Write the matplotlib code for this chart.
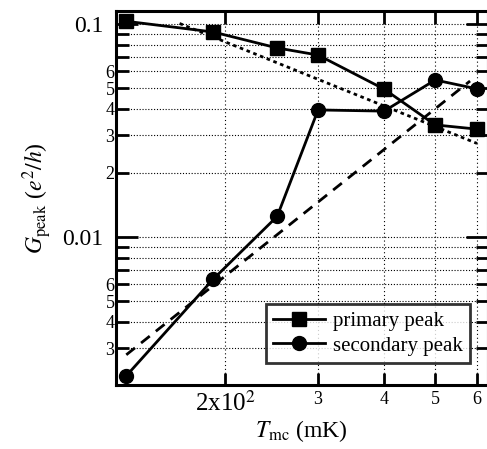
import matplotlib
matplotlib.use("Agg")
import matplotlib.pyplot as plt
from matplotlib.ticker import FixedLocator, FuncFormatter, NullFormatter, LogLocator
import numpy as np

# ---- data ----
T_primary = [130, 190, 251, 300, 400, 500, 600]
G_primary = [0.103, 0.0917, 0.0772, 0.0715, 0.0495, 0.0336, 0.0321]
T_secondary = [130, 190, 251, 300, 400, 500, 600]
G_secondary = [0.00223, 0.00635, 0.0125, 0.0395, 0.039, 0.0546, 0.0496]
# fitted power-law guide lines (end points)
T_fit_primary = [164, 600]
G_fit_primary = [0.1006, 0.0275]
T_fit_secondary = [130, 582]
G_fit_secondary = [0.0028, 0.054]
labels = ["primary peak", "secondary peak"]
x_ticks = [200, 300, 400, 500, 600]
x_ticklabels = ["2x10$^2$", "3", "4", "5", "6"]

plt.rcParams["font.family"] = ["Liberation Serif", "DejaVu Serif"]
plt.rcParams["mathtext.fontset"] = "stix"

fig = plt.figure(figsize=(4.87, 4.49), dpi=100)
W, H = 487, 449
l, r, t, b = 116, 487.5, 11, 385
ax = fig.add_axes([l / W, 1 - b / H, (r - l) / W, (b - t) / H])
ax.set_xscale("log")
ax.set_yscale("log")
ax.set_xlim(124.3, 628)
ax.set_ylim(0.00202, 0.1151)

ax.plot(T_fit_primary, G_fit_primary, color="k", lw=2.0, ls=(0, (1.3, 1.3)), zorder=3)
ax.plot(T_fit_secondary, G_fit_secondary, color="k", lw=2.0, ls=(0, (4, 2.8)), zorder=3)
ax.plot(T_primary, G_primary, color="k", lw=2.0, marker="s", ms=9.5, label=labels[0], zorder=4)
ax.plot(T_secondary, G_secondary, color="k", lw=2.0, marker="o", ms=10, label=labels[1], zorder=4)

# x ticks
ax.xaxis.set_major_locator(FixedLocator([]))
ax.xaxis.set_minor_locator(FixedLocator(x_ticks))
ax.xaxis.set_minor_formatter(FuncFormatter(lambda v, p: x_ticklabels[x_ticks.index(int(round(v)))] if int(round(v)) in x_ticks else ""))

# y ticks
ax.yaxis.set_major_locator(FixedLocator([0.01, 0.1]))
ax.yaxis.set_major_formatter(FuncFormatter(lambda v, p: "0.1" if v > 0.05 else "0.01"))
ax.yaxis.set_minor_locator(LogLocator(base=10, subs=np.arange(2, 10), numticks=20))

def yminor(v, p):
    d = int(round(v / 10 ** np.floor(np.log10(v) + 1e-9)))
    return str(d) if d <= 6 else ""

ax.yaxis.set_minor_formatter(FuncFormatter(yminor))

ax.tick_params(which="both", direction="in", top=True, right=True, color="k", width=2)
ax.tick_params(axis="y", which="major", length=16, pad=9, labelsize=17)
ax.tick_params(axis="y", which="minor", length=9, pad=1, labelsize=13)
ax.tick_params(axis="x", which="minor", length=9, pad=4, labelsize=13)
ax.tick_params(axis="x", which="minor", labelsize=13)
for lab in ax.xaxis.get_minorticklabels():
    pass

ax.grid(True, which="both", axis="y", color="k", ls=(0, (1, 1.6)), lw=0.8)
ax.grid(True, which="minor", axis="x", color="k", ls=(0, (1, 2.5)), lw=0.8)

for s in ax.spines.values():
    s.set_linewidth(2.2)

ax.set_xlabel(r"$T_{\rm mc}$ (mK)", fontsize=17, labelpad=2)
ax.set_ylabel(r"$G_{\rm peak}$ ($e^2/h$)", fontsize=17, labelpad=6)

leg = ax.legend(loc="lower right", bbox_to_anchor=(0.954, 0.059), borderaxespad=0,
                fontsize=15, frameon=True, fancybox=False, edgecolor="k",
                handlelength=2.5, handletextpad=0.4, borderpad=0.35, labelspacing=0.25)
leg.get_frame().set_linewidth(2)
leg.set_zorder(5)

fig.canvas.draw()
# make the 2x10^2 label larger like the reference
for lab in ax.xaxis.get_minorticklabels():
    if "10" in lab.get_text():
        lab.set_fontsize(18)

fig.savefig("out.png", dpi=100)
